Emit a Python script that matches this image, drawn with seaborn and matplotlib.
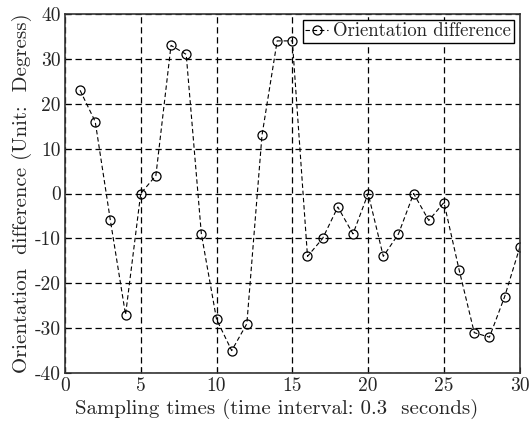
import matplotlib
matplotlib.use("Agg")
import matplotlib.pyplot as plt
import seaborn as sns
import pandas as pd

# sampling index and measured orientation difference (degrees)
sample_idx = list(range(1, 31))
orient_diff = [23, 16, -6, -27, 0, 4, 33, 31, -9, -28,
               -35, -29, 13, 34, 34, -14, -10, -3, -9, 0,
               -14, -9, 0, -6, -2, -17, -31, -32, -23, -12]
x_ticks = [0, 5, 10, 15, 20, 25, 30]
y_ticks = [-40, -30, -20, -10, 0, 10, 20, 30, 40]

df = pd.DataFrame({"t": sample_idx, "diff": orient_diff})

sns.set_style("ticks")
plt.rcParams["font.family"] = ["cmr10", "DejaVu Serif"]
plt.rcParams["axes.unicode_minus"] = False
plt.rcParams["axes.formatter.use_mathtext"] = False

fig = plt.figure(figsize=(5.32, 4.23), dpi=100)
ax = fig.add_axes([0.122, 0.118, 0.855, 0.849])

sns.lineplot(data=df, x="t", y="diff", ax=ax, color="black", linewidth=0.8,
             linestyle=(0, (4, 2.5)), marker="o", markersize=6.5,
             markerfacecolor="none", markeredgecolor="black",
             markeredgewidth=0.9, label="Orientation difference")

ax.set_xlim(0, 30)
ax.set_ylim(-40, 40)
ax.set_xticks(x_ticks)
ax.set_yticks(y_ticks)
ax.set_xticklabels([str(v) for v in x_ticks])
ax.set_yticklabels([str(v) for v in y_ticks])
ax.grid(True, color="black", linestyle=(0, (5, 3)), linewidth=0.9)
ax.tick_params(direction="in", labelsize=14, length=4, color="black", pad=3)
for s in ax.spines.values():
    s.set_color("#333333")
    s.set_linewidth(1.2)
    s.set_visible(True)

ax.set_xlabel("Sampling times (time interval: 0.3  seconds)", fontsize=15)
ax.xaxis.set_label_coords(0.465, -0.072, transform=ax.transAxes)
ax.xaxis.label.set_verticalalignment("top")
ax.set_ylabel("Orientation  difference (Unit:  Degress)", fontsize=15, labelpad=2)

leg = ax.legend(loc="upper right", fontsize=13.5, handlelength=1.2, handletextpad=0.3,
                borderpad=0.15, borderaxespad=0.3, fancybox=False, framealpha=1)
leg.get_frame().set_edgecolor("black")
leg.get_frame().set_linewidth(1.0)

fig.savefig("out.png", dpi=100)
